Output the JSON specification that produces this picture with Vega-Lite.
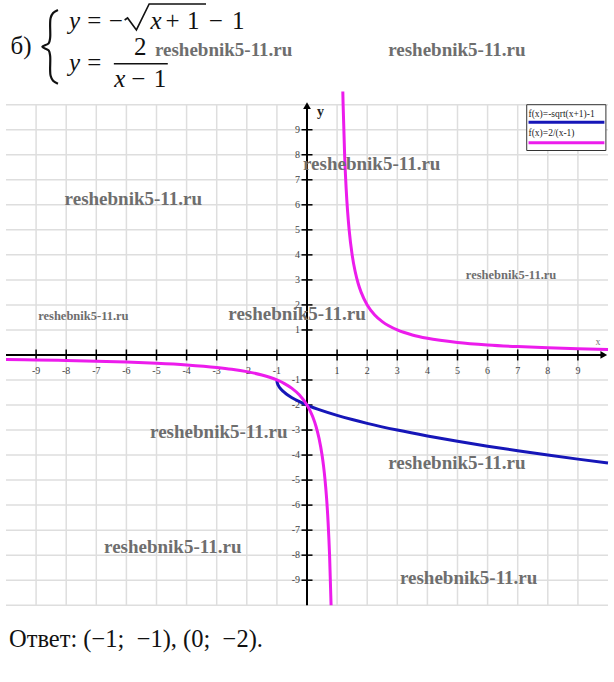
{
  "$schema": "https://vega.github.io/schema/vega-lite/v6.json",
  "width": 614,
  "height": 682,
  "padding": 0,
  "autosize": {"type": "fit", "contains": "padding"},
  "background": "white",
  "config": {"view": {"stroke": null}, "font": "Liberation Serif", "axis": {"disable": true}, "legend": {"disable": true}},
  "datasets": {
    "curves": [
      {"s": "f1", "x": -1, "y": -1}, {"s": "f1", "x": -0.995, "y": -1.0707}, {"s": "f1", "x": -0.98, "y": -1.1414}, {"s": "f1", "x": -0.95, "y": -1.2236}, {"s": "f1", "x": -0.9, "y": -1.3162}, {"s": "f1", "x": -0.8, "y": -1.4472}, {"s": "f1", "x": -0.7, "y": -1.5477}, {"s": "f1", "x": -0.5, "y": -1.7071}, {"s": "f1", "x": -0.25, "y": -1.866}, {"s": "f1", "x": 0, "y": -2}, {"s": "f1", "x": 0.5, "y": -2.2247}, {"s": "f1", "x": 1, "y": -2.4142}, {"s": "f1", "x": 1.5, "y": -2.5811}, {"s": "f1", "x": 2, "y": -2.7321}, {"s": "f1", "x": 3, "y": -3}, {"s": "f1", "x": 4, "y": -3.2361}, {"s": "f1", "x": 5, "y": -3.4495}, {"s": "f1", "x": 6, "y": -3.6458}, {"s": "f1", "x": 7, "y": -3.8284}, {"s": "f1", "x": 8, "y": -4}, {"s": "f1", "x": 9, "y": -4.1623}, {"s": "f1", "x": 10, "y": -4.3166},
      {"s": "f2a", "x": -10, "y": -0.1818}, {"s": "f2a", "x": -9, "y": -0.2}, {"s": "f2a", "x": -8, "y": -0.2222}, {"s": "f2a", "x": -7, "y": -0.25}, {"s": "f2a", "x": -6, "y": -0.2857}, {"s": "f2a", "x": -5, "y": -0.3333}, {"s": "f2a", "x": -4, "y": -0.4}, {"s": "f2a", "x": -3, "y": -0.5}, {"s": "f2a", "x": -2.5, "y": -0.5714}, {"s": "f2a", "x": -2, "y": -0.6667}, {"s": "f2a", "x": -1.5, "y": -0.8}, {"s": "f2a", "x": -1, "y": -1}, {"s": "f2a", "x": -0.75, "y": -1.1429}, {"s": "f2a", "x": -0.5, "y": -1.3333}, {"s": "f2a", "x": -0.25, "y": -1.6}, {"s": "f2a", "x": 0, "y": -2}, {"s": "f2a", "x": 0.1, "y": -2.2222}, {"s": "f2a", "x": 0.2, "y": -2.5}, {"s": "f2a", "x": 0.3, "y": -2.8571}, {"s": "f2a", "x": 0.4, "y": -3.3333}, {"s": "f2a", "x": 0.5, "y": -4}, {"s": "f2a", "x": 0.55, "y": -4.4444}, {"s": "f2a", "x": 0.6, "y": -5}, {"s": "f2a", "x": 0.65, "y": -5.7143}, {"s": "f2a", "x": 0.7, "y": -6.6667}, {"s": "f2a", "x": 0.75, "y": -8}, {"s": "f2a", "x": 0.8, "y": -10},
      {"s": "f2b", "x": 1.19, "y": 10.5263}, {"s": "f2b", "x": 1.2, "y": 10}, {"s": "f2b", "x": 1.25, "y": 8}, {"s": "f2b", "x": 1.3, "y": 6.6667}, {"s": "f2b", "x": 1.35, "y": 5.7143}, {"s": "f2b", "x": 1.4, "y": 5}, {"s": "f2b", "x": 1.5, "y": 4}, {"s": "f2b", "x": 1.6, "y": 3.3333}, {"s": "f2b", "x": 1.7, "y": 2.8571}, {"s": "f2b", "x": 1.8, "y": 2.5}, {"s": "f2b", "x": 2, "y": 2}, {"s": "f2b", "x": 2.25, "y": 1.6}, {"s": "f2b", "x": 2.5, "y": 1.3333}, {"s": "f2b", "x": 3, "y": 1}, {"s": "f2b", "x": 3.5, "y": 0.8}, {"s": "f2b", "x": 4, "y": 0.6667}, {"s": "f2b", "x": 5, "y": 0.5}, {"s": "f2b", "x": 6, "y": 0.4}, {"s": "f2b", "x": 7, "y": 0.3333}, {"s": "f2b", "x": 8, "y": 0.2857}, {"s": "f2b", "x": 9, "y": 0.25}, {"s": "f2b", "x": 10, "y": 0.2222}
    ],
    "gridY": [{"y": -10}, {"y": -9}, {"y": -8}, {"y": -7}, {"y": -6}, {"y": -5}, {"y": -4}, {"y": -3}, {"y": -2}, {"y": -1}, {"y": 1}, {"y": 2}, {"y": 3}, {"y": 4}, {"y": 5}, {"y": 6}, {"y": 7}, {"y": 8}, {"y": 9}, {"y": 10}],
    "gridX": [{"x": -9}, {"x": -8}, {"x": -7}, {"x": -6}, {"x": -5}, {"x": -4}, {"x": -3}, {"x": -2}, {"x": -1}, {"x": 1}, {"x": 2}, {"x": 3}, {"x": 4}, {"x": 5}, {"x": 6}, {"x": 7}, {"x": 8}, {"x": 9}],
    "ticksX": [{"x": -9, "label": "-9"}, {"x": -8, "label": "-8"}, {"x": -7, "label": "-7"}, {"x": -6, "label": "-6"}, {"x": -5, "label": "-5"}, {"x": -4, "label": "-4"}, {"x": -3, "label": "-3"}, {"x": -2, "label": "-2"}, {"x": -1, "label": "-1"}, {"x": 1, "label": "1"}, {"x": 2, "label": "2"}, {"x": 3, "label": "3"}, {"x": 4, "label": "4"}, {"x": 5, "label": "5"}, {"x": 6, "label": "6"}, {"x": 7, "label": "7"}, {"x": 8, "label": "8"}, {"x": 9, "label": "9"}],
    "ticksY": [{"y": -9, "label": "-9"}, {"y": -8, "label": "-8"}, {"y": -7, "label": "-7"}, {"y": -6, "label": "-6"}, {"y": -5, "label": "-5"}, {"y": -4, "label": "-4"}, {"y": -3, "label": "-3"}, {"y": -2, "label": "-2"}, {"y": -1, "label": "-1"}, {"y": 1, "label": "1"}, {"y": 2, "label": "2"}, {"y": 3, "label": "3"}, {"y": 4, "label": "4"}, {"y": 5, "label": "5"}, {"y": 6, "label": "6"}, {"y": 7, "label": "7"}, {"y": 8, "label": "8"}, {"y": 9, "label": "9"}],
    "wmBig": [{"x": -2.77, "y": 12.19}, {"x": 4.98, "y": 12.19}, {"x": 2.15, "y": 7.65}, {"x": -5.77, "y": 6.25}, {"x": -0.33, "y": 1.63}, {"x": -2.93, "y": -3.07}, {"x": 4.98, "y": -4.3}, {"x": -4.46, "y": -7.69}, {"x": 5.37, "y": -8.92}],
    "wmSmall": [{"x": 6.78, "y": 3.19}, {"x": -7.43, "y": 1.55}],
    "eqR": [
      {"t": "б)", "x": -9.5, "y": 12.03},
      {"t": "=", "x": -7.068, "y": 13.028}, {"t": "−", "x": -6.352, "y": 13.028}, {"t": "+", "x": -4.463, "y": 13.028}, {"t": "1", "x": -3.779, "y": 13.028}, {"t": "−", "x": -3.029, "y": 13.028}, {"t": "1", "x": -2.28, "y": 13.028},
      {"t": "=", "x": -7.068, "y": 11.355}, {"t": "2", "x": -5.537, "y": 11.992},
      {"t": "−", "x": -5.603, "y": 10.717}, {"t": "1", "x": -4.886, "y": 10.717}
    ],
    "eqI": [
      {"t": "y", "x": -7.72, "y": 13.028}, {"t": "x", "x": -5.016, "y": 13.028},
      {"t": "y", "x": -7.72, "y": 11.355}, {"t": "x", "x": -6.221, "y": 10.717}
    ],
    "brace": [
      {"i": 0, "x": -8.274, "y": 13.785}, {"i": 1, "x": -8.436, "y": 13.665}, {"i": 2, "x": -8.518, "y": 13.466}, {"i": 3, "x": -8.534, "y": 13.227}, {"i": 4, "x": -8.534, "y": 12.669}, {"i": 5, "x": -8.583, "y": 12.45}, {"i": 6, "x": -8.795, "y": 12.311}, {"i": 7, "x": -8.583, "y": 12.171}, {"i": 8, "x": -8.534, "y": 11.952}, {"i": 9, "x": -8.534, "y": 11.394}, {"i": 10, "x": -8.518, "y": 11.155}, {"i": 11, "x": -8.436, "y": 10.956}, {"i": 12, "x": -8.274, "y": 10.837}
    ],
    "radical": [
      {"i": 0, "x": -6.059, "y": 13.386}, {"i": 1, "x": -5.961, "y": 13.466}, {"i": 2, "x": -5.668, "y": 12.988}, {"i": 3, "x": -5.244, "y": 14.024}, {"i": 4, "x": -3.355, "y": 14.024}
    ],
    "legendText": [{"t": "f(x)=-sqrt(x+1)-1", "x": 7.36, "y": 9.5}, {"t": "f(x)=2/(x-1)", "x": 7.36, "y": 8.73}],
    "legendLines": [{"s": "f1", "y": 9.3}, {"s": "f2a", "y": 8.48}],
    "answer": [{"t": "Ответ: (−1;\u00a0\u00a0−1), (0;\u00a0\u00a0−2).", "x": -9.9, "y": -11.67}]
  },
  "layer": [
    {"data": {"name": "curves"}, "mark": {"type": "line", "opacity": 0},
     "encoding": {
       "x": {"field": "x", "type": "quantitative", "scale": {"domain": [-10, 10], "nice": false, "zero": false}},
       "y": {"field": "y", "type": "quantitative", "scale": {"domain": [-13.068, 14.104], "nice": false, "zero": false}},
       "detail": {"field": "s"}}},
    {"data": {"name": "gridY"}, "mark": {"type": "rule", "stroke": "#dedede", "strokeWidth": 1.5},
     "encoding": {"x": {"datum": -10}, "x2": {"datum": 10}, "y": {"field": "y", "type": "quantitative"}}},
    {"data": {"name": "gridX"}, "mark": {"type": "rule", "stroke": "#dedede", "strokeWidth": 1.5},
     "encoding": {"x": {"field": "x", "type": "quantitative"}, "y": {"datum": -10}, "y2": {"datum": 10}}},
    {"data": {"values": [{}]}, "mark": {"type": "rule", "stroke": "black", "strokeWidth": 2},
     "encoding": {"x": {"datum": -10}, "x2": {"datum": 9.85}, "y": {"datum": 0}}},
    {"data": {"values": [{}]}, "mark": {"type": "rule", "stroke": "black", "strokeWidth": 2},
     "encoding": {"x": {"datum": 0}, "y": {"datum": -10}, "y2": {"datum": 9.9}}},
    {"data": {"values": [{}]}, "mark": {"type": "point", "shape": "triangle-right", "filled": true, "color": "black", "opacity": 1, "size": 60},
     "encoding": {"x": {"datum": 9.86}, "y": {"datum": 0}}},
    {"data": {"values": [{}]}, "mark": {"type": "point", "shape": "triangle-up", "filled": true, "color": "black", "opacity": 1, "size": 60},
     "encoding": {"x": {"datum": 0}, "y": {"datum": 9.96}}},
    {"data": {"name": "ticksX"}, "mark": {"type": "tick", "orient": "vertical", "size": 11, "thickness": 1.5, "color": "black", "opacity": 1},
     "encoding": {"x": {"field": "x", "type": "quantitative"}, "y": {"datum": 0}}},
    {"data": {"name": "ticksY"}, "mark": {"type": "tick", "orient": "horizontal", "size": 11, "thickness": 1.5, "color": "black", "opacity": 1},
     "encoding": {"x": {"datum": 0}, "y": {"field": "y", "type": "quantitative"}}},
    {"data": {"name": "ticksX"}, "mark": {"type": "text", "fontSize": 10, "color": "#444", "dy": 16, "align": "center", "baseline": "middle"},
     "encoding": {"x": {"field": "x", "type": "quantitative"}, "y": {"datum": 0}, "text": {"field": "label"}}},
    {"data": {"name": "ticksY"}, "mark": {"type": "text", "fontSize": 10, "color": "#444", "dx": -7, "align": "right", "baseline": "middle"},
     "encoding": {"x": {"datum": 0}, "y": {"field": "y", "type": "quantitative"}, "text": {"field": "label"}}},
    {"data": {"values": [{}]}, "mark": {"type": "text", "fontSize": 14, "fontWeight": "bold", "color": "#222", "align": "center", "baseline": "middle"},
     "encoding": {"x": {"datum": 0.45}, "y": {"datum": 9.72}, "text": {"value": "y"}}},
    {"data": {"values": [{}]}, "mark": {"type": "text", "fontSize": 10, "color": "#777", "align": "center", "baseline": "middle"},
     "encoding": {"x": {"datum": 9.67}, "y": {"datum": 0.52}, "text": {"value": "x"}}},
    {"data": {"name": "curves"}, "mark": {"type": "line", "strokeWidth": 3, "interpolate": "monotone"},
     "encoding": {"x": {"field": "x", "type": "quantitative"}, "y": {"field": "y", "type": "quantitative"},
       "color": {"field": "s", "type": "nominal", "scale": {"domain": ["f1", "f2a", "f2b"], "range": ["#1616b8", "#ec1cec", "#ec1cec"]}}}},
    {"data": {"values": [{}]}, "mark": {"type": "rect", "fill": "white", "stroke": "#333", "strokeWidth": 1},
     "encoding": {"x": {"datum": 7.3}, "x2": {"datum": 9.93}, "y": {"datum": 10.0}, "y2": {"datum": 8.17}}},
    {"data": {"name": "legendLines"}, "mark": {"type": "rule", "strokeWidth": 3},
     "encoding": {"x": {"datum": 7.36}, "x2": {"datum": 9.88}, "y": {"field": "y", "type": "quantitative"},
       "color": {"field": "s", "type": "nominal", "scale": {"domain": ["f1", "f2a", "f2b"], "range": ["#1616b8", "#ec1cec", "#ec1cec"]}}}},
    {"data": {"name": "legendText"}, "mark": {"type": "text", "fontSize": 9.5, "color": "#222", "align": "left", "baseline": "alphabetic"},
     "encoding": {"x": {"field": "x", "type": "quantitative"}, "y": {"field": "y", "type": "quantitative"}, "text": {"field": "t"}}},
    {"data": {"name": "eqR"}, "mark": {"type": "text", "fontSize": 25, "color": "#111", "align": "center", "baseline": "alphabetic"},
     "encoding": {"x": {"field": "x", "type": "quantitative"}, "y": {"field": "y", "type": "quantitative"}, "text": {"field": "t"}}},
    {"data": {"name": "eqI"}, "mark": {"type": "text", "fontSize": 25, "fontStyle": "italic", "color": "#111", "align": "center", "baseline": "alphabetic"},
     "encoding": {"x": {"field": "x", "type": "quantitative"}, "y": {"field": "y", "type": "quantitative"}, "text": {"field": "t"}}},
    {"data": {"name": "brace"}, "mark": {"type": "line", "color": "#111", "strokeWidth": 2.2, "interpolate": "catmull-rom"},
     "encoding": {"x": {"field": "x", "type": "quantitative"}, "y": {"field": "y", "type": "quantitative"}, "order": {"field": "i", "type": "quantitative"}}},
    {"data": {"name": "radical"}, "mark": {"type": "line", "color": "#111", "strokeWidth": 1.6, "interpolate": "linear"},
     "encoding": {"x": {"field": "x", "type": "quantitative"}, "y": {"field": "y", "type": "quantitative"}, "order": {"field": "i", "type": "quantitative"}}},
    {"data": {"values": [{}]}, "mark": {"type": "rule", "stroke": "#111", "strokeWidth": 1.5},
     "encoding": {"x": {"datum": -6.417}, "x2": {"datum": -4.625}, "y": {"datum": 11.633}}},
    {"data": {"name": "answer"}, "mark": {"type": "text", "fontSize": 24.5, "color": "#111", "align": "left", "baseline": "alphabetic"},
     "encoding": {"x": {"field": "x", "type": "quantitative"}, "y": {"field": "y", "type": "quantitative"}, "text": {"field": "t"}}},
    {"data": {"name": "wmBig"}, "mark": {"type": "text", "fontSize": 19, "fontWeight": "bold", "color": "#6e6e6e", "align": "center", "baseline": "middle"},
     "encoding": {"x": {"field": "x", "type": "quantitative"}, "y": {"field": "y", "type": "quantitative"}, "text": {"value": "reshebnik5-11.ru"}}},
    {"data": {"name": "wmSmall"}, "mark": {"type": "text", "fontSize": 12.5, "fontWeight": "bold", "color": "#6e6e6e", "align": "center", "baseline": "middle"},
     "encoding": {"x": {"field": "x", "type": "quantitative"}, "y": {"field": "y", "type": "quantitative"}, "text": {"value": "reshebnik5-11.ru"}}}
  ]
}
